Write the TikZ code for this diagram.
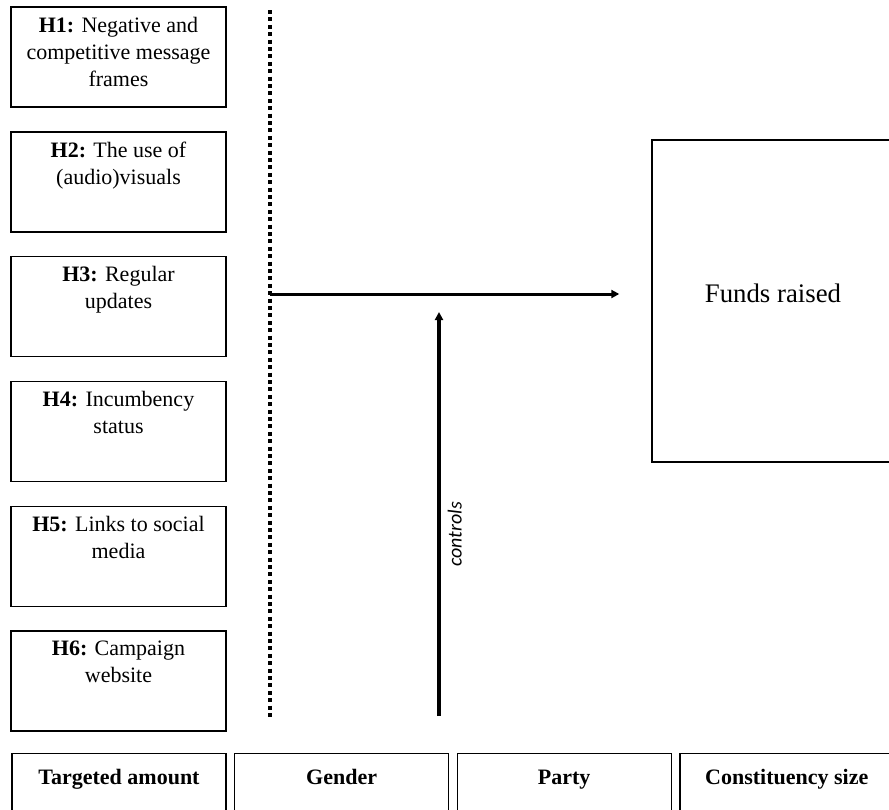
\documentclass[tikz,border=0pt]{standalone}
\usepackage{fontspec}
\setmainfont{Liberation Serif}
\newfontfamily\ctrlfont{Carlito}
\usetikzlibrary{arrows.meta}

\newcommand{\htext}[1]{\parbox[c][40pt][t]{104pt}{\centering #1}}

\begin{document}
\begin{tikzpicture}[x=0.5pt, y=-0.5pt,
    hyp node/.style={draw, line width=0.7pt, minimum width=107.5pt, minimum height=50pt, inner sep=0pt, font=\fontsize{11}{13.5}\selectfont},
    ctrl node/.style={draw, line width=0.7pt, minimum width=107pt, inner xsep=0pt, inner ysep=3pt, text height=12.5pt, text depth=29pt, font=\fontsize{11}{13}\selectfont\bfseries},
    main arrow/.style={line width=1.5pt, -{Triangle[length=4pt, width=4pt]}},
    node distance=62.4pt]
    \useasboundingbox (0,0) rectangle (889,809);
    \clip (0,0) rectangle (889,809);

    \node[hyp node] (h1) at (118.5,57) {\htext{\textbf{H1:} Negative and\\competitive message\\frames}};
    \node[hyp node] (h2) [below of=h1] {\htext{\textbf{H2:} The use of\\(audio)visuals}};
    \node[hyp node] (h3) [below of=h2] {\htext{\textbf{H3:} Regular\\updates}};
    \node[hyp node] (h4) [below of=h3] {\htext{\textbf{H4:} Incumbency\\status}};
    \node[hyp node] (h5) [below of=h4] {\htext{\textbf{H5:} Links to social\\media}};
    \node[hyp node] (h6) [below of=h5] {\htext{\textbf{H6:} Campaign\\website}};

    \node[draw, line width=0.7pt, minimum width=121pt, minimum height=161pt, text depth=8pt, font=\fontsize{13.4}{16}\selectfont] (funds) at (773,301) {Funds raised};

    \node[ctrl node] (target) at (119,801) {Targeted amount};
    \node[ctrl node, node distance=111.3pt] (gender) [right of=target] {Gender};
    \node[ctrl node, node distance=111.3pt] (party) [right of=gender] {Party};
    \node[ctrl node, node distance=111.3pt] (size) [right of=party] {Constituency size};

    \coordinate (dtop) at (270,10);
    \coordinate (dbot) at (270,718);
    \coordinate (split) at (270,294);
    \coordinate (cbot) at (439,716);
    \coordinate (ctop) at (439,312);

    \draw[line width=2.2pt, dash pattern=on 2pt off 1.7pt] (dtop) -- (dbot);
    \draw[main arrow, shorten >=16pt] (split) -- (split -| funds.west);
    \draw[main arrow, line width=2pt] (cbot) -- node[sloped, below, pos=0.45, font=\fontsize{10}{12}\selectfont\ctrlfont\itshape] {controls} (ctop);
\end{tikzpicture}
\end{document}
